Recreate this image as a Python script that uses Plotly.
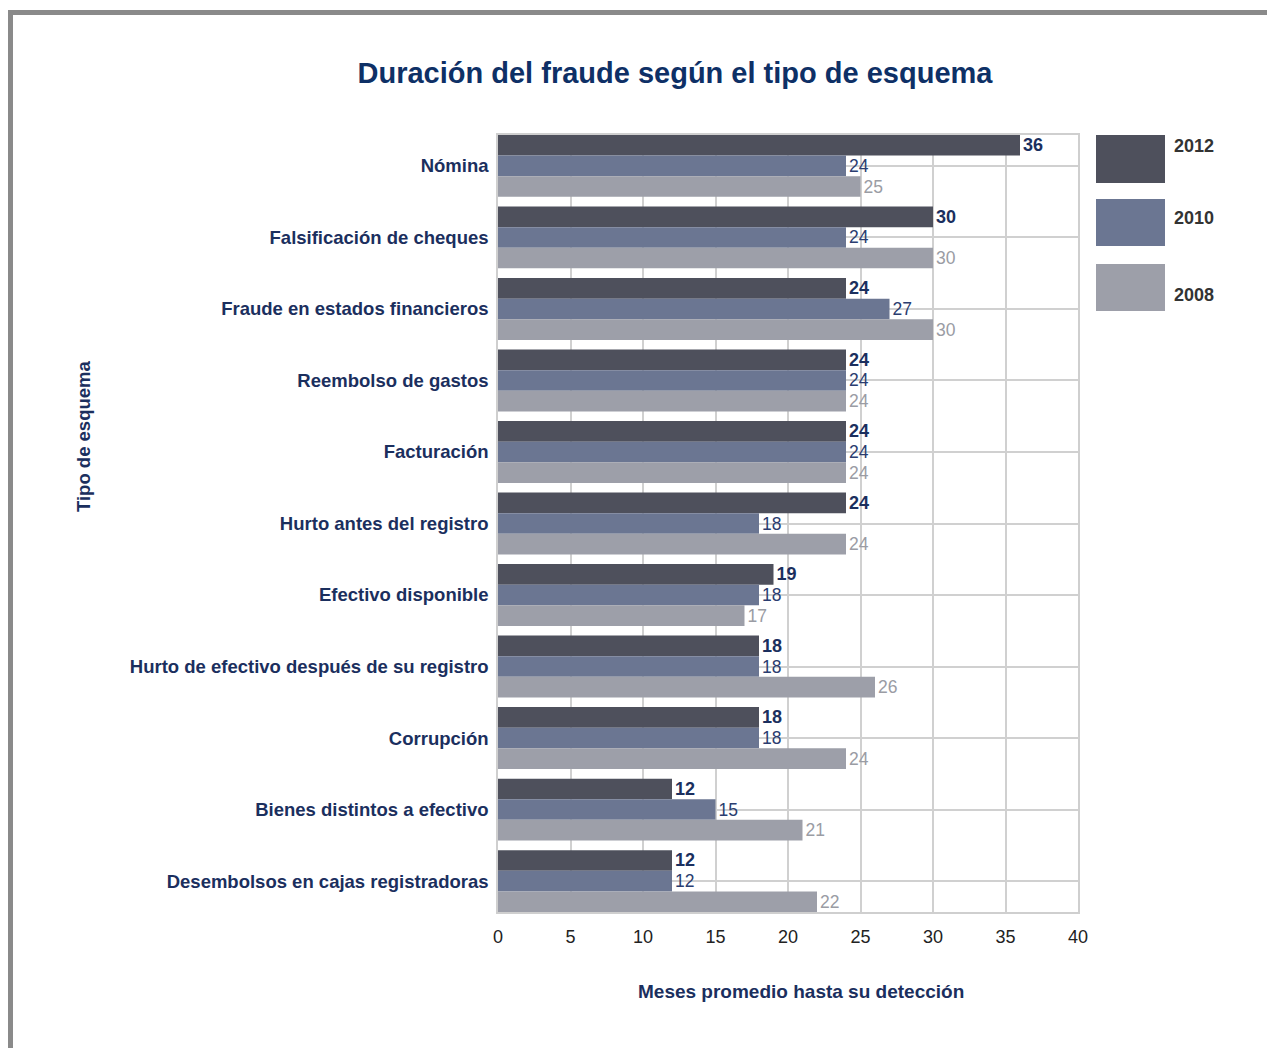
import plotly.graph_objects as go

categories = [
    "Nómina",
    "Falsificación de cheques",
    "Fraude en estados financieros",
    "Reembolso de gastos",
    "Facturación",
    "Hurto antes del registro",
    "Efectivo disponible",
    "Hurto de efectivo después de su registro",
    "Corrupción",
    "Bienes distintos a efectivo",
    "Desembolsos en cajas registradoras",
]
series_names = ["2012", "2010", "2008"]
v2012 = [36, 30, 24, 24, 24, 24, 19, 18, 18, 12, 12]
v2010 = [24, 24, 27, 24, 24, 18, 18, 18, 18, 15, 12]
v2008 = [25, 30, 30, 24, 24, 24, 17, 26, 24, 21, 22]
x_ticks = [0, 5, 10, 15, 20, 25, 30, 35, 40]

title = "Duración del fraude según el tipo de esquema"
x_title = "Meses promedio hasta su detección"
y_title = "Tipo de esquema"

FONT = "Liberation Sans, Arial, sans-serif"
NAVY = "#1b2f5e"

bar_colors = ["#4e505c", "#6b7692", "#9d9fa9"]
text_fonts = [
    dict(family=FONT, size=18, color=NAVY, weight="bold"),
    dict(family=FONT, size=17.5, color="#2a3d70"),
    dict(family=FONT, size=17.5, color="#9a9ca4"),
]

fig = go.Figure()
for name, vals, col, tf in zip(series_names, [v2012, v2010, v2008], bar_colors, text_fonts):
    fig.add_trace(go.Bar(
        y=categories, x=vals, orientation="h", name=name,
        marker=dict(color=col, line=dict(width=0)),
        text=[str(v) for v in vals], textposition="outside",
        textfont=tf, constraintext="none", cliponaxis=False,
        showlegend=False,
    ))

W, H = 1267, 1048
L, R, T, B = 498, 1078, 135, 912
pw, ph = R - L, B - T

def px(x):
    return (x - L) / pw

def py(y):
    return (B - y) / ph

BARGAP = 0.135
half = (1 - BARGAP) / 2
n = len(categories)

fig.update_layout(
    width=W, height=H,
    margin=dict(l=L, r=W - R, t=T, b=H - B, autoexpand=False),
    paper_bgcolor="white", plot_bgcolor="white",
    barmode="group", bargap=BARGAP, bargroupgap=0,
    title=dict(text=title, xref="container", yref="container",
               x=675 / W, y=1 - 73 / H, xanchor="center", yanchor="middle",
               font=dict(family=FONT, size=29, color="#0e3066", weight="bold")),
    xaxis=dict(range=[0, 40], tickvals=x_ticks, showgrid=True, gridcolor="#d0d0d0",
               gridwidth=1.5, zeroline=False, showline=True, linecolor="#cfcfcf",
               linewidth=1.5, mirror=True, ticks="outside", ticklen=8,
               tickcolor="rgba(0,0,0,0)",
               tickfont=dict(family=FONT, size=18, color="#222222")),
    yaxis=dict(range=[n - 1 + half, -half], showgrid=True, gridcolor="#d0d0d0",
               gridwidth=1.5, showline=True, linecolor="#cfcfcf", linewidth=1.5,
               mirror=True, ticks="outside", ticklen=4, tickcolor="rgba(0,0,0,0)",
               tickfont=dict(family=FONT, size=18.5, color=NAVY, weight="bold")),
)

# axis titles
fig.add_annotation(text=y_title, xref="paper", yref="paper", x=px(83), y=py(437),
                   textangle=-90, showarrow=False, xanchor="center", yanchor="middle",
                   font=dict(family=FONT, size=18.5, color=NAVY, weight="bold"))
fig.add_annotation(text=x_title, xref="paper", yref="paper", x=px(801), y=py(991),
                   showarrow=False, xanchor="center", yanchor="middle",
                   font=dict(family=FONT, size=19, color=NAVY, weight="bold"))

# legend built from swatches
sw = [(135, 183, 146), (199, 246, 218), (264, 311, 295)]
for (y0, y1, ty), name, col in zip(sw, series_names, bar_colors):
    fig.add_shape(type="rect", xref="paper", yref="paper",
                  x0=px(1096), x1=px(1165), y0=py(y1), y1=py(y0),
                  fillcolor=col, line=dict(width=0))
    fig.add_annotation(text=name, xref="paper", yref="paper", x=px(1172), y=py(ty),
                       showarrow=False, xanchor="left", yanchor="middle",
                       font=dict(family=FONT, size=18, color="#333333", weight="bold"))

# outer frame
fig.add_shape(type="rect", xref="paper", yref="paper",
              x0=px(10.5), x1=px(1290), y0=py(1070), y1=py(12.5),
              line=dict(color="#8a8a8a", width=5), fillcolor="rgba(0,0,0,0)")

fig.write_html("out.html")
